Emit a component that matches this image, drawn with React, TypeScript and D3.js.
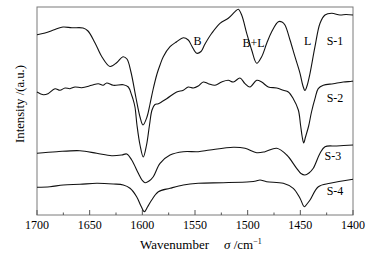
import React from "react";
import * as d3 from "d3";

// Wavenumber (cm^-1) / intensity (a.u.) pairs for each spectrum
const s1Wn = [1700, 1692.4, 1682.9, 1675.3, 1666.8, 1656.3, 1651.6, 1644.9, 1638.3, 1630.7, 1624.1, 1618.4, 1614.6, 1610.8, 1606.0, 1602.2, 1599.4, 1595.6, 1592.7, 1589.9, 1586.1, 1583.2, 1580.1, 1573.7, 1567.4, 1561.1, 1556.4, 1552.8, 1548.4, 1544.3, 1540.5, 1534.1, 1526.3, 1518.4, 1512.0, 1508.9, 1505.7, 1500.9, 1496.2, 1491.4, 1486.7, 1481.9, 1477.2, 1470.9, 1467.4, 1464.6, 1459.8, 1455.1, 1450.3, 1447.5, 1445.6, 1443.7, 1440.8, 1436.1, 1431.3, 1426.6, 1420.2, 1412.4, 1406.7, 1400];
const s1Val = [180.3, 182, 185.5, 188, 187.2, 187, 184, 172, 158, 148.5, 152.5, 158.3, 156, 143, 117, 98, 90, 98, 111, 125, 141, 150, 158.3, 168.3, 173.3, 177.3, 175, 168.5, 161.7, 163.5, 171, 181.7, 191.7, 196.7, 203.3, 205.7, 200, 181.7, 165, 151.7, 158.3, 171.7, 183.3, 193.3, 193, 190, 175, 158.3, 141.7, 129, 124.5, 129, 141.7, 168.3, 191.7, 200, 201.7, 200, 200.5, 200];

const s2Wn = [1700, 1694, 1689.6, 1682.9, 1678.2, 1673.4, 1668.7, 1663.9, 1657.6, 1648.1, 1641.8, 1637.3, 1633.8, 1627.6, 1618.1, 1613.3, 1610.1, 1608.9, 1607.0, 1605.1, 1602.2, 1599.1, 1596.0, 1593.2, 1590.8, 1588.0, 1584.8, 1576.9, 1567.4, 1561.1, 1556.4, 1551.6, 1546.9, 1542.1, 1537.4, 1531.0, 1524.7, 1518.4, 1513.6, 1507.3, 1502.5, 1497.8, 1491.4, 1486.7, 1480.4, 1472.4, 1466.2, 1461.4, 1456.7, 1451.9, 1449.8, 1448.2, 1446.8, 1445.1, 1442.1, 1439.4, 1436.1, 1433.0, 1428.2, 1418.7, 1409.2, 1401.2, 1400];
const s2Val = [123, 120.3, 121.3, 126.3, 124.7, 127, 126.3, 128, 127.3, 129.7, 131.3, 129.7, 132, 129.7, 130.3, 128, 119.7, 116, 108, 90, 70, 58, 70, 90, 105, 110.5, 111.3, 116.3, 123, 124.7, 128, 127, 129, 133, 131.3, 129.7, 133, 134.7, 133, 137, 131.3, 128, 134.7, 133, 128, 127, 124.7, 123, 116.3, 105, 90, 78, 72, 78, 89, 103, 116.3, 126.3, 129.7, 131.3, 133, 133.7, 134];

const s3Wn = [1700, 1681.3, 1659.2, 1643.3, 1629.1, 1619.6, 1614.8, 1610.1, 1603.8, 1600.3, 1597.4, 1593.6, 1589.6, 1583.2, 1573.7, 1561.1, 1546.9, 1535.8, 1513.6, 1502.5, 1491.4, 1483.5, 1472.4, 1462.9, 1453.5, 1449.4, 1445.6, 1441.8, 1437.7, 1431.3, 1426.6, 1415.5, 1400];
const s3Val = [61.7, 63.3, 64.3, 61.7, 59.3, 60, 61, 55, 41.7, 35, 32.3, 34, 38.3, 51.7, 60, 63.3, 63.3, 65, 67.7, 66.7, 62.3, 63.3, 66.7, 60, 46.7, 41.5, 40, 42, 46.7, 61.7, 68.3, 69, 70];

const s4Wn = [1700, 1687.7, 1675.0, 1659.2, 1643.3, 1627.6, 1618.1, 1611.7, 1605.4, 1601.3, 1598.1, 1595.1, 1591.1, 1584.8, 1573.7, 1561.1, 1546.9, 1523.1, 1497.8, 1492.1, 1488.3, 1482.0, 1466.2, 1456.7, 1450.3, 1446.2, 1443.7, 1440.8, 1432.9, 1421.8, 1400];
const s4Val = [27.7, 28.3, 30, 30.7, 31.7, 31, 30, 26.7, 18.3, 9, 3.3, 8, 15, 23.3, 26.7, 30, 31.7, 32.3, 33.3, 34, 35, 33.3, 31.7, 26.7, 16.7, 8.3, 11, 15, 28.3, 31.7, 35.7];

const majorTicks = [1700, 1650, 1600, 1550, 1500, 1450, 1400];
const minorTicks = [1675, 1625, 1575, 1525, 1475, 1425];

const labelText = ["B", "B+L", "L", "S-1", "S-2", "S-3", "S-4"];
const labelWn = [1551.5, 1505, 1446.5, 1425, 1425, 1427, 1425];
const labelVal = [170, 168, 170, 170, 113, 55, 20];

const W = 384, H = 256;
const left = 37, right = 353, top = 7, bottom = 215;
const FONT = '"Liberation Serif", "Times New Roman", "DejaVu Serif", serif';

export default function App() {
  const x = d3.scaleLinear().domain([1700, 1400]).range([left, right]);
  const y = d3.scaleLinear().domain([0, 208]).range([bottom, top]);
  const line = d3
    .line<[number, number]>()
    .x((d) => x(d[0]))
    .y((d) => y(d[1]))
    .curve(d3.curveCatmullRom.alpha(0.5));
  const series = [
    [s1Wn, s1Val],
    [s2Wn, s2Val],
    [s3Wn, s3Val],
    [s4Wn, s4Val],
  ].map(([w, v]) => w.map((wn, i) => [wn, v[i]] as [number, number]));
  const ts = { fontFamily: FONT };
  return (
    <svg
      width={W}
      height={H}
      style={{ position: "absolute", left: 0, top: 0, background: "#fff", fontFamily: FONT }}
    >
      <rect x={left} y={top} width={right - left} height={bottom - top} fill="none" stroke="#7a7a7a" strokeWidth={1} />
      {majorTicks.map((t) => (
        <g key={"M" + t}>
          <line x1={x(t)} x2={x(t)} y1={bottom} y2={bottom - 5} stroke="#555" />
          <text x={x(t)} y={229} fontSize={12} textAnchor="middle" fill="#000" style={ts}>
            {t}
          </text>
        </g>
      ))}
      {minorTicks.map((t) => (
        <line key={"m" + t} x1={x(t)} x2={x(t)} y1={bottom} y2={bottom - 2.5} stroke="#555" />
      ))}
      {series.map((s, i) => (
        <path key={i} d={line(s) || ""} fill="none" stroke="#111" strokeWidth={1.1} />
      ))}
      {labelText.map((t, i) => (
        <text key={t} x={x(labelWn[i])} y={y(labelVal[i])} fontSize={12} fill="#000" style={ts}>
          {t}
        </text>
      ))}
      <text x={140} y={249} fontSize={13} fill="#000" style={ts}>
        Wavenumber
      </text>
      <text x={224} y={249} fontSize={13} fill="#000" style={ts}>
        <tspan fontStyle="italic">σ</tspan>
        <tspan> /cm</tspan>
        <tspan fontSize={8} dy={-5}>−1</tspan>
      </text>
      <text
        transform={`translate(23.5,104) rotate(-90)`}
        fontSize={12.7}
        textAnchor="middle"
        fill="#000"
        style={ts}
      >
        Intensity /(a.u.)
      </text>
    </svg>
  );
}
